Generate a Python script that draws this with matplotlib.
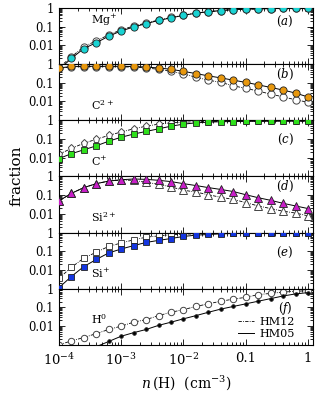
import numpy as np
import matplotlib
matplotlib.use("Agg")
import matplotlib.pyplot as plt
from matplotlib.lines import Line2D
from matplotlib.ticker import LogLocator, NullFormatter

plt.rcParams['font.family'] = ['DejaVu Serif']
plt.rcParams['mathtext.fontset'] = 'dejavuserif'

# density grid: log n(H) from -4 to 0 in 0.2 dex steps
log_nH = [-4.0, -3.8, -3.6, -3.4, -3.2, -3.0, -2.8, -2.6, -2.4, -2.2, -2.0,
          -1.8, -1.6, -1.4, -1.2, -1.0, -0.8, -0.6, -0.4, -0.2, 0.0]

# log10 fractions, HM05 (filled, solid) and HM12 (open, dash-dot)
mg1_hm05 = [-3.3, -2.70, -2.17, -1.86, -1.51, -1.23, -1.02, -0.84, -0.67, -0.53, -0.40,
            -0.28, -0.21, -0.14, -0.09, -0.07, -0.05, -0.035, -0.03, -0.02, -0.02]
mg1_hm12 = [-3.2, -2.62, -2.07, -1.76, -1.44, -1.17, -0.97, -0.81, -0.65, -0.51, -0.39,
            -0.27, -0.20, -0.14, -0.09, -0.07, -0.05, -0.035, -0.03, -0.02, -0.02]

c2_hm05 = [-0.21, -0.13, -0.12, -0.12, -0.12, -0.12, -0.13, -0.16, -0.21, -0.28, -0.39,
           -0.51, -0.63, -0.74, -0.86, -0.98, -1.11, -1.25, -1.39, -1.55, -1.76]
c2_hm12 = [-0.23, -0.15, -0.14, -0.14, -0.14, -0.15, -0.16, -0.21, -0.28, -0.39, -0.53,
           -0.70, -0.86, -0.98, -1.16, -1.30, -1.44, -1.61, -1.75, -1.91, -2.04]

c1_hm05 = [-2.05, -1.79, -1.58, -1.37, -1.12, -0.91, -0.74, -0.60, -0.46, -0.32, -0.21,
           -0.14, -0.105, -0.08, -0.07, -0.06, -0.06, -0.05, -0.05, -0.05, -0.05]
c1_hm12 = [-1.82, -1.51, -1.23, -1.02, -0.81, -0.63, -0.46, -0.32, -0.21, -0.14, -0.105,
           -0.08, -0.07, -0.06, -0.06, -0.05, -0.05, -0.05, -0.05, -0.05, -0.05]

si2_hm05 = [-1.31, -0.91, -0.60, -0.39, -0.25, -0.18, -0.14, -0.16, -0.21, -0.28, -0.39,
            -0.49, -0.60, -0.70, -0.81, -0.98, -1.14, -1.28, -1.44, -1.58, -1.72]
si2_hm12 = [-1.31, -0.91, -0.60, -0.39, -0.25, -0.20, -0.21, -0.32, -0.42, -0.56, -0.74,
            -0.84, -0.98, -1.12, -1.23, -1.40, -1.58, -1.72, -1.86, -1.96, -2.11]

si1_hm05 = [-2.95, -2.35, -1.82, -1.44, -1.09, -0.88, -0.70, -0.53, -0.42, -0.32, -0.21,
            -0.14, -0.105, -0.07, -0.05, -0.04, -0.03, -0.03, -0.02, -0.02, -0.02]
si1_hm12 = [-2.45, -1.86, -1.37, -1.05, -0.74, -0.56, -0.39, -0.25, -0.18, -0.12, -0.09,
            -0.07, -0.05, -0.04, -0.03, -0.03, -0.02, -0.02, -0.02, -0.02, -0.02]

h0_hm05 = [-3.9, -3.6, -3.35, -3.1, -2.82, -2.54, -2.35, -2.18, -1.96, -1.79, -1.61,
           -1.44, -1.26, -1.09, -0.95, -0.81, -0.67, -0.53, -0.39, -0.28, -0.21]
h0_hm12 = [-3.0, -2.79, -2.61, -2.40, -2.18, -2.00, -1.79, -1.65, -1.44, -1.26, -1.12,
           -0.95, -0.81, -0.67, -0.56, -0.46, -0.32, -0.25, -0.18, -0.14, -0.105]

ions = ["Mg$^{+}$", "C$^{2+}$", "C$^{+}$", "Si$^{2+}$", "Si$^{+}$", "H$^{0}$"]
panel_tags = ["$(a)$", "$(b)$", "$(c)$", "$(d)$", "$(e)$", "$(f)$"]
series_hm05 = [mg1_hm05, c2_hm05, c1_hm05, si2_hm05, si1_hm05, h0_hm05]
series_hm12 = [mg1_hm12, c2_hm12, c1_hm12, si2_hm12, si1_hm12, h0_hm12]

colors = ["#19d3d3", "#e8980e", "#2ee01a", "#c81ec8", "#1436e0", "black"]
markers = ["o", "o", "s", "^", "s", "o"]
markers12 = ["o", "o", "p", "^", "s", "o"]
msizes = [5.2, 5.2, 4.4, 5.4, 4.4, 2.6]
msizes12 = [5.2, 5.2, 5.2, 5.4, 4.4, 4.6]
ion_pos = [(0.125, 0.77), (0.125, 0.27), (0.125, 0.26), (0.125, 0.27), (0.125, 0.27), (0.125, 0.45)]
tag_pos = [(0.89, 0.75), (0.89, 0.82), (0.89, 0.65), (0.89, 0.82), (0.89, 0.64), (0.89, 0.64)]

xtick_vals = [1e-4, 1e-3, 1e-2, 0.1, 1.0]
xtick_labels = ["$10^{-4}$", "$10^{-3}$", "$10^{-2}$", "0.1", "1"]
ytick_vals = [0.01, 0.1, 1.0]
ytick_labels = ["0.01", "0.1", "1"]

fig, axes = plt.subplots(6, 1, figsize=(3.2, 3.95), dpi=100, sharex=True)
fig.subplots_adjust(left=0.184, right=0.978, top=0.980, bottom=0.127, hspace=0)

x = 10.0 ** np.array(log_nH)
for i, ax in enumerate(axes):
    y05 = 10.0 ** np.array(series_hm05[i])
    y12 = 10.0 ** np.array(series_hm12[i])
    ax.plot(x, y12, linestyle=(0, (4, 1.5, 1, 1.5)), color="black", lw=0.6,
            marker=markers12[i], ms=msizes12[i], mfc="white", mec="#444444", mew=0.7,
            zorder=2)
    ax.plot(x, y05, linestyle="-", color="black", lw=0.7,
            marker=markers[i], ms=msizes[i], mfc=colors[i], mec="#222222", mew=0.6,
            zorder=3)
    ax.set_xscale("log")
    ax.set_yscale("log")
    ax.set_xlim(1e-4, 1.2)
    ax.set_ylim(1e-3, 1.0)
    ax.set_yticks(ytick_vals)
    ax.set_yticklabels(ytick_labels, fontsize=8.3)
    ax.yaxis.set_minor_locator(LogLocator(base=10, subs=np.arange(2, 10)))
    ax.yaxis.set_minor_formatter(NullFormatter())
    ax.xaxis.set_minor_locator(LogLocator(base=10, subs=np.arange(2, 10)))
    ax.xaxis.set_minor_formatter(NullFormatter())
    ax.tick_params(which="both", direction="in", top=True, right=True, width=0.6)
    ax.tick_params(which="major", length=4.5)
    ax.tick_params(which="minor", length=2.2)
    for s in ax.spines.values():
        s.set_linewidth(0.8)
    ax.text(ion_pos[i][0], ion_pos[i][1], ions[i], transform=ax.transAxes,
            fontsize=8, va="center", ha="left")
    ax.text(tag_pos[i][0], tag_pos[i][1], panel_tags[i], transform=ax.transAxes,
            fontsize=8.5, va="center", ha="center")

axes[-1].set_xticks(xtick_vals)
axes[-1].set_xticklabels(xtick_labels, fontsize=9.5)
axes[-1].tick_params(axis="x", which="major", pad=5)
axes[-1].set_xlabel(r"$n\,$(H)  (cm$^{-3}$)", fontsize=10, labelpad=4)

fig.text(0.05, 0.555, "fraction", rotation=90, fontsize=11, va="center", ha="center")

handles = [Line2D([0], [0], color="black", lw=0.6, linestyle=(0, (4, 1.5, 1, 1.5))),
           Line2D([0], [0], color="black", lw=0.7, linestyle="-")]
axes[-1].legend(handles, ["HM12", "HM05"], loc="lower right", frameon=False,
                bbox_to_anchor=(0.95, 0.0), fontsize=8, handlelength=1.4,
                handletextpad=0.5, labelspacing=0.25, borderaxespad=0.1)

fig.savefig("out.png", dpi=100)
